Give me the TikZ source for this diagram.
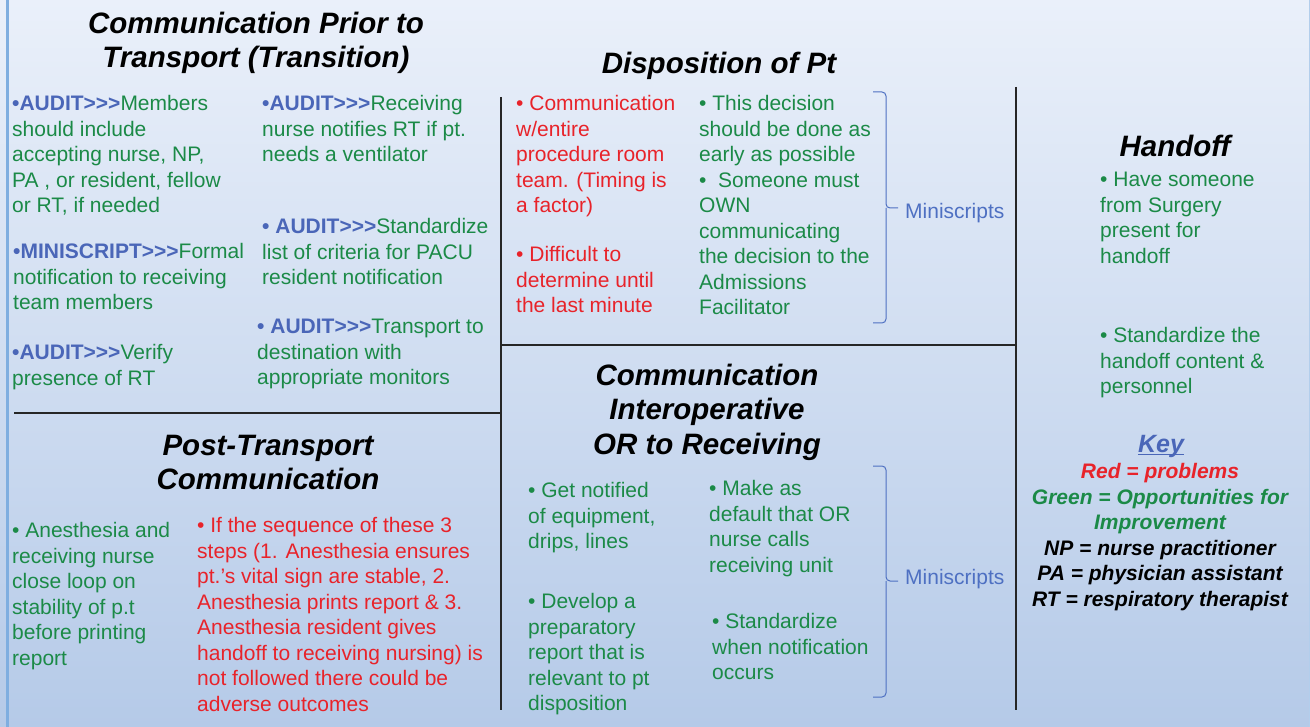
\documentclass[tikz,border=0pt]{standalone}
\usepackage{fontspec}
\setmainfont{Liberation Sans}[Ligatures=TeXOff]
\usepackage{tikz}

\definecolor{okgreen}{HTML}{1B8A47}
\definecolor{badred}{HTML}{E8232A}
\definecolor{auditblue}{HTML}{4A66B8}
\definecolor{miniblue}{HTML}{4E70C2}
\definecolor{bgtop}{HTML}{EAF0FA}
\definecolor{bgbot}{HTML}{B5CAE8}
\definecolor{bordblue}{HTML}{7FAEE0}

\newcommand{\aud}[1]{\textcolor{auditblue}{\bfseries #1>>>}}

\tikzset{
  body/.style={inner sep=0pt, anchor=north west, align=left, yshift=-3pt,
    font=\fontsize{21}{25.5}\selectfont, execute at begin node=\strut},
  good/.style={body, text=okgreen},
  bad/.style={body, text=badred},
  head/.style={inner sep=0pt, anchor=north, align=center, yshift=-3.5pt,
    font=\fontsize{29.5}{34.5}\selectfont\bfseries\itshape, execute at begin node=\strut},
  keytext/.style={body, anchor=north, align=center, font=\fontsize{21}{25.5}\selectfont\bfseries\itshape},
  sep/.style={line width=1.5pt, draw=black!85},
  bracket/.style={draw=miniblue, line width=1pt, rounded corners=4pt},
  mini/.style={inner sep=0pt, anchor=base west, text=miniblue, font=\fontsize{21}{25.5}\selectfont}
}

\begin{document}
\begin{tikzpicture}[x=1pt,y=-1pt]
  \useasboundingbox (0,0) rectangle (1310,727);
  \shade[top color=bgtop, bottom color=bgbot] (0,0) rectangle (1310,727);
  \fill[bordblue] (6,0) rectangle (9,727);
  \draw[bordblue!60, line width=0.6pt] (1309,0) -- (1309,727);

  % frame lines
  \draw[sep] (14,413) -- (502,413);
  \draw[sep] (501,97) -- (501,710);
  \draw[sep] (501,345) -- (1016,345);
  \draw[sep] (1016,87) -- (1016,710);

  % prior to transport
  \node[head] (prior) at (256,8.35) {Communication Prior to\\Transport (Transition)};
  \node[good] (members) at (12,92.15) {\aud{•AUDIT}Members\\should include\\accepting nurse, NP,\\PA , or resident, fellow\\or RT, if needed};
  \node[good] (formal) at (13,240.15) {\aud{•MINISCRIPT}Formal\\notification to receiving\\team members};
  \node[good] (verify) at (12,341.15) {\aud{•AUDIT}Verify\\presence of RT};
  \node[good] (vent) at (262,92.15) {\aud{•AUDIT}Receiving\\nurse notifies RT if pt.\\needs a ventilator};
  \node[good] (criteria) at (262,215.15) {\aud{• AUDIT}Standardize\\list of criteria for PACU\\resident notification};
  \node[good] (monitors) at (257,316.15) {\aud{• AUDIT}Transport to\\destination with\\appropriate monitors};

  % disposition
  \node[head] (dispo) at (719,45.35) {Disposition of Pt};
  \node[bad] (team) at (516,92.15) {• Communication\\w/entire\\procedure room\\team. (Timing is\\a factor)};
  \node[bad] (late) at (516,243.15) {• Difficult to\\determine until\\the last minute};
  \node[good] (early) at (699,92.15) {• This decision\\should be done as\\early as possible\\•\ \ Someone must\\OWN\\communicating\\the decision to the\\Admissions\\Facilitator};
  \draw[bracket] (873,92) -| (886,208) -- (898,208);
  \draw[bracket] (873,323) -| (886,208);
  \node[mini] (mini1) at (905,219) {Miniscripts};

  % interoperative
  \node[head] (interop) at (707,360.35) {Communication\\Interoperative\\OR to Receiving};
  \node[good] (equip) at (528,479.15) {• Get notified\\of equipment,\\drips, lines};
  \node[good] (report) at (528,590.15) {• Develop a\\preparatory\\report that is\\relevant to pt\\disposition};
  \node[good] (calls) at (709,477.15) {• Make as\\default that OR\\nurse calls\\receiving unit};
  \node[good] (when) at (712,610.15) {• Standardize\\when notification\\occurs};
  \draw[bracket] (873,466) -| (886,581) -- (898,581);
  \draw[bracket] (873,697) -| (886,581);
  \node[mini] (mini2) at (905,584) {Miniscripts};

  % post transport
  \node[head] (post) at (268,431.35) {Post-Transport\\Communication};
  \node[good] (loop) at (12,519.15) {• Anesthesia and\\receiving nurse\\close loop on\\stability of p.t\\before printing\\report};
  \node[bad] (steps) at (197,514.15) {• If the sequence of these 3\\steps (1. Anesthesia ensures\\pt.’s vital sign are stable, 2.\\Anesthesia prints report \& 3.\\Anesthesia resident gives\\handoff to receiving nursing) is\\not followed there could be\\adverse outcomes};

  % handoff and key
  \node[head] (handoff) at (1175,128.35) {Handoff};
  \node[good] (surgery) at (1100,169.15) {• Have someone\\from Surgery\\present for\\handoff};
  \node[good] (content) at (1100,324.15) {• Standardize the\\handoff content \&\\personnel};
  \node[inner sep=0pt, anchor=base, text=auditblue, font=\fontsize{25}{30}\selectfont\bfseries\itshape] (key) at (1161,452.5) {Key};
  \draw[auditblue, line width=1.3pt] ([yshift=-2pt]key.base west) -- ([yshift=-2pt]key.base east);
  \node[keytext] (legend) at (1160,460.15) {\textcolor{badred}{Red = problems}\\\textcolor{okgreen}{Green = Opportunities for}\\\textcolor{okgreen}{Improvement}\\NP = nurse practitioner\\PA = physician assistant\\RT = respiratory therapist};
\end{tikzpicture}
\end{document}
